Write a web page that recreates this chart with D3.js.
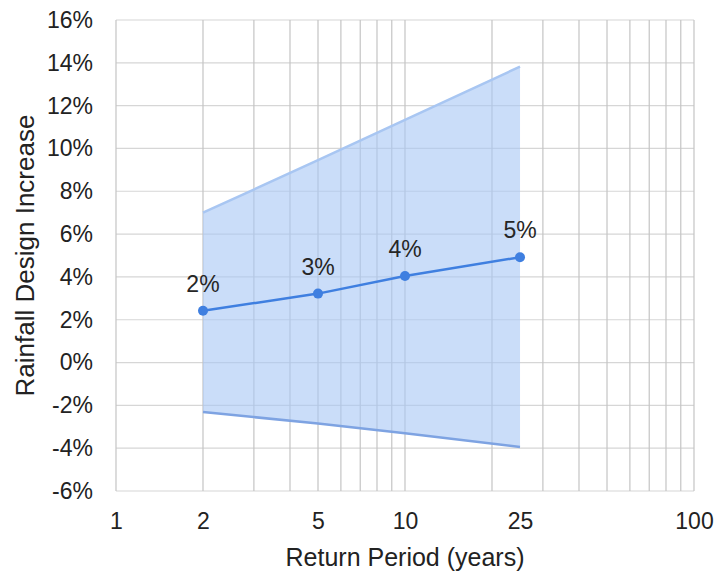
<!DOCTYPE html>
<html>
<head>
<meta charset="utf-8">
<script src="https://cdn.jsdelivr.net/npm/d3@7"></script>
<style>
  html, body { margin: 0; padding: 0; background: #fff; }
  svg { display: block; font-family: "Liberation Sans", Arial, sans-serif; }
</style>
</head>
<body>
<svg id="chart" width="718" height="572"></svg>
<script>
// Return periods (years) and projected rainfall design increase
const returnPeriods = [2, 5, 10, 25];
const meanIncrease  = [0.0242, 0.0322, 0.0404, 0.0492];
const upperBound    = [0.070, 0.0945, 0.1133, 0.1382];
const lowerBound    = [-0.0231, -0.0285, -0.0330, -0.0394];

const xTickLabels = [1, 2, 5, 10, 25, 100];
const yTickValues = [-0.06, -0.04, -0.02, 0, 0.02, 0.04, 0.06, 0.08, 0.10, 0.12, 0.14, 0.16];

const W = 718, H = 572;
const margin = { top: 20, right: 24, bottom: 81, left: 116 };

const svg = d3.select("#chart");

const x = d3.scaleLog().domain([1, 100]).range([margin.left, W - margin.right]);
const y = d3.scaleLinear().domain([-0.06, 0.16]).range([H - margin.bottom, margin.top]);

// Percent format with a plain hyphen for negatives
const pctFmt = d => d3.format(".0%")(d).replace("\u2212", "-");

// Grid: horizontal lines at every 2%, vertical lines at every log step
const gx = x.ticks();   // 1..10, 20..100
svg.append("g")
  .selectAll("line").data(yTickValues).join("line")
  .attr("x1", margin.left).attr("x2", W - margin.right)
  .attr("y1", d => y(d)).attr("y2", d => y(d))
  .attr("stroke", "#d6d6d6").attr("stroke-width", 1.2);

svg.append("g")
  .selectAll("line").data(gx).join("line")
  .attr("x1", d => x(d)).attr("x2", d => x(d))
  .attr("y1", margin.top).attr("y2", H - margin.bottom)
  .attr("stroke", "#c4c4c4").attr("stroke-width", 1.2);

// Uncertainty band
const rows = returnPeriods.map((p, i) => ({ p, mean: meanIncrease[i], lo: lowerBound[i], hi: upperBound[i] }));

svg.append("path")
  .datum(rows)
  .attr("d", d3.area().x(d => x(d.p)).y0(d => y(d.lo)).y1(d => y(d.hi)))
  .attr("fill", "#a9c8f5")
  .attr("fill-opacity", 0.62);

svg.append("path")
  .datum(rows)
  .attr("d", d3.line().x(d => x(d.p)).y(d => y(d.hi)))
  .attr("fill", "none").attr("stroke", "#a8c6f2").attr("stroke-width", 2.5);

svg.append("path")
  .datum(rows)
  .attr("d", d3.line().x(d => x(d.p)).y(d => y(d.lo)))
  .attr("fill", "none").attr("stroke", "#7ea3e2").attr("stroke-width", 2.5);

// Mean line with markers
svg.append("path")
  .datum(rows)
  .attr("d", d3.line().x(d => x(d.p)).y(d => y(d.mean)))
  .attr("fill", "none").attr("stroke", "#3f7fe0").attr("stroke-width", 2.5);

svg.append("g")
  .selectAll("circle").data(rows).join("circle")
  .attr("cx", d => x(d.p)).attr("cy", d => y(d.mean)).attr("r", 5)
  .attr("fill", "#3f7fe0");

svg.append("g")
  .selectAll("text").data(rows).join("text")
  .attr("x", d => x(d.p)).attr("y", d => y(d.mean) - 19)
  .attr("text-anchor", "middle")
  .attr("font-size", 23).attr("fill", "#262626")
  .text(d => pctFmt(d.mean));

// Axes (labels only; the grid doubles as axis lines)
const yAxis = d3.axisLeft(y).tickValues(yTickValues).tickFormat(pctFmt).tickSize(0).tickPadding(23);
const yg = svg.append("g").attr("transform", `translate(${margin.left},0)`).call(yAxis);
yg.select(".domain").remove();
yg.selectAll("text").attr("font-size", 23).attr("fill", "#222").attr("font-family", null);

const xAxis = d3.axisBottom(x).tickValues(xTickLabels).tickFormat(d3.format("d")).tickSize(0).tickPadding(22);
const xg = svg.append("g").attr("transform", `translate(0,${H - margin.bottom})`).call(xAxis);
xg.select(".domain").remove();
xg.selectAll("text").attr("font-size", 23).attr("fill", "#222").attr("font-family", null);

// Axis titles
svg.append("text")
  .attr("x", (margin.left + W - margin.right) / 2)
  .attr("y", 566)
  .attr("text-anchor", "middle")
  .attr("font-size", 25).attr("fill", "#222")
  .text("Return Period (years)");

svg.append("text")
  .attr("transform", `translate(34,${(margin.top + H - margin.bottom) / 2}) rotate(-90)`)
  .attr("text-anchor", "middle")
  .attr("font-size", 26).attr("fill", "#222")
  .text("Rainfall Design Increase");
</script>
</body>
</html>
